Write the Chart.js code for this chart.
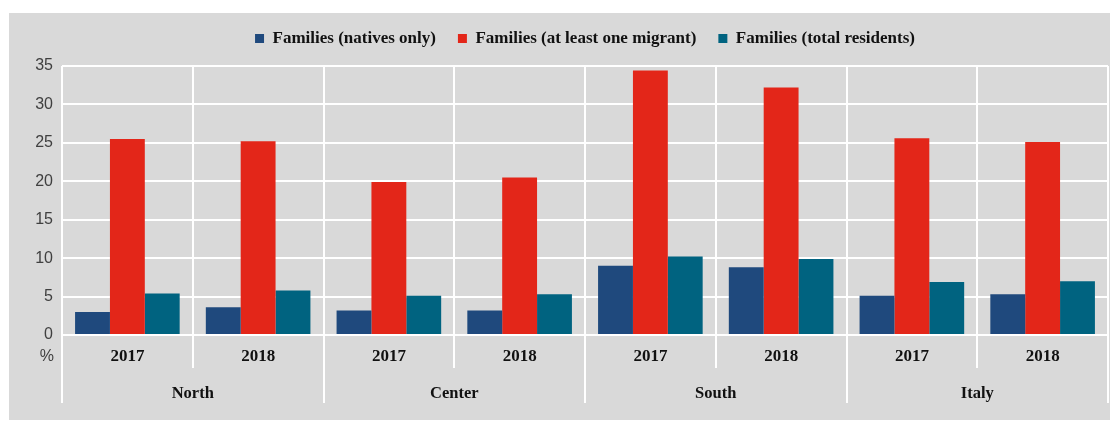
<!DOCTYPE html>
<html>
<head>
<meta charset="utf-8">
<script src="https://cdn.jsdelivr.net/npm/chart.js@4/dist/chart.umd.min.js"></script>
<style>
  body { margin: 0; background: #fff; }
  #box { position: absolute; left: 9px; top: 13px; width: 1101px; height: 407px; background: #d9d9d9; }
</style>
</head>
<body>
<div id="box"><canvas id="canvasFamilias"></canvas></div>
<script>
// anni e aree
var anni = ['2017', '2018', '2017', '2018', '2017', '2018', '2017', '2018'];
var aree = ['North', 'Center', 'South', 'Italy'];

// quote per tipo di famiglia (%)
var nativi = [3.0, 3.6, 3.2, 3.2, 9.0, 8.8, 5.1, 5.3];
var migranti = [25.5, 25.2, 19.9, 20.5, 34.4, 32.2, 25.6, 25.1];
var totale = [5.4, 5.8, 5.1, 5.3, 10.2, 9.9, 6.9, 7.0];

var yTicks = [0, 5, 10, 15, 20, 25, 30, 35];

var serifFamily = '"Liberation Serif", "Times New Roman", serif';

// scritta "%" sotto lo zero dell'asse y
var percentoPlugin = {
	id: 'percento',
	afterDraw: function(chart){
		var ctx = chart.ctx;
		var ys = chart.scales.y;
		var xs = chart.scales.x;
		ctx.save();
		ctx.font = '16px "Liberation Sans", Arial, sans-serif';
		ctx.fillStyle = '#404040';
		ctx.textAlign = 'right';
		ctx.textBaseline = 'middle';
		ctx.fillText('%', ys.right - 8, xs.top + 22);
		ctx.restore();
	}
};

var barChartData = {
	labels: anni,
	datasets: [
		{ label: 'Families (natives only)', backgroundColor: '#1F497D', data: nativi },
		{ label: 'Families (at least one migrant)', backgroundColor: '#E32619', data: migranti },
		{ label: 'Families (total residents)', backgroundColor: '#006380', data: totale }
	]
};

var ctx = document.getElementById('canvasFamilias').getContext('2d');
window.myBar = new Chart(ctx, {
	type: 'bar',
	data: barChartData,
	plugins: [percentoPlugin],
	options: {
		responsive: true,
		maintainAspectRatio: false,
		animation: false,
		layout: { padding: { top: -5, right: 2, bottom: 10, left: 0 } },
		datasets: { bar: { categoryPercentage: 0.8, barPercentage: 1.0 } },
		plugins: {
			legend: {
				position: 'top',
				fullSize: false,
				labels: {
					boxWidth: 9,
					boxHeight: 9,
					padding: 22,
					color: '#111',
					font: { family: serifFamily, weight: 'bold', size: 17 }
				}
			},
			tooltip: { enabled: false }
		},
		scales: {
			spazio: {
				type: 'category',
				position: 'top',
				labels: anni,
				grid: { display: false },
				ticks: { display: false },
				border: { display: false },
				afterFit: function(scale){ scale.height = 9; }
			},
			y: {
				min: 0,
				max: 35,
				afterBuildTicks: function(scale){
					scale.ticks = yTicks.map(function(v){ return { value: v }; });
				},
				afterFit: function(scale){ scale.width = 53; },
				grid: { color: '#ffffff', lineWidth: 2, drawTicks: false },
				border: { display: false },
				ticks: {
					padding: 9,
					color: '#404040',
					font: { family: '"Liberation Sans", Arial, sans-serif', size: 16 }
				}
			},
			x: {
				position: 'bottom',
				weight: 0,
				grid: { color: '#ffffff', lineWidth: 2, offset: true, tickLength: 33 },
				border: { color: '#ffffff', width: 2 },
				afterFit: function(scale){ scale.height = 30; },
				ticks: { padding: -22, color: '#111', font: { family: serifFamily, weight: 'bold', size: 17 }, maxRotation: 0 }
			},
			aree: {
				type: 'category',
				position: 'bottom',
				weight: 1,
				labels: aree,
				offset: true,
				grid: { color: '#ffffff', lineWidth: 2, offset: true, tickLength: 38, drawOnChartArea: false },
				border: { display: false },
				afterFit: function(scale){ scale.height = 45; },
				ticks: { padding: -19, color: '#111', font: { family: serifFamily, weight: 'bold', size: 16.5 }, maxRotation: 0 }
			}
		}
	}
});
</script>
</body>
</html>
